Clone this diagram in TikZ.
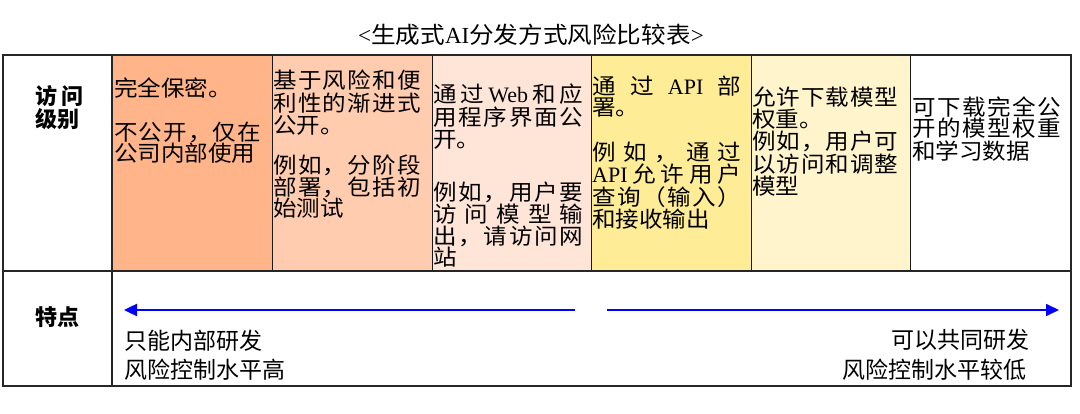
\documentclass[tikz,border=0pt]{standalone}
\usepackage{fontspec}
\setmainfont{Liberation Serif}
\newfontfamily\cjk[FakeStretch=1.07]{Noto Sans CJK SC}
\newfontfamily\cjkh{Noto Sans CJK SC}
\usetikzlibrary{arrows.meta}
\ExplSyntaxOn
\bool_new:N \l__spr_first_bool
\NewDocumentCommand \spr { O{148pt} m }
  {
    \hbox_to_wd:nn {#1}
      {
        \bool_set_true:N \l__spr_first_bool
        \tl_map_inline:nn {#2}
          {
            \bool_if:NTF \l__spr_first_bool
              { \bool_set_false:N \l__spr_first_bool }
              { \hfill }
            {##1}
          }
      }
  }
\ExplSyntaxOff
\definecolor{colA}{HTML}{FFB48A}
\definecolor{colB}{HTML}{FFCCB0}
\definecolor{colC}{HTML}{FFE5D8}
\definecolor{colD}{HTML}{FFEC96}
\definecolor{colE}{HTML}{FFF4CC}
\tikzset{
  cellt/.style={anchor=base west, inner sep=0pt, font=\cjk\fontsize{22}{22}\selectfont},
  head/.style={anchor=base west, inner sep=0pt, font=\cjkh\bfseries\fontsize{22}{24}\selectfont},
  feat/.style={inner sep=0pt, font=\cjkh\fontsize{23}{26}\selectfont},
  titlet/.style={anchor=base, inner sep=0pt, font=\cjk\fontsize{23}{24}\selectfont},
  outerline/.style={draw=black!85, line width=1.3pt},
  innerline/.style={draw=black!90, line width=0.9pt},
  flow/.style={draw=blue, -{Triangle[length=13pt,width=12pt]}}
}
\begin{document}
\begin{tikzpicture}[x=1pt,y=1pt]
\useasboundingbox (0,0) rectangle (1080,-414);
% cell fills
\fill[colA] (112,-55) rectangle (272,-271);
\fill[colB] (272,-55) rectangle (432,-271);
\fill[colC] (432,-55) rectangle (591,-271);
\fill[colD] (591,-55) rectangle (751,-271);
\fill[colE] (751,-55) rectangle (910,-271);
% grid
\foreach \xx in {272,432,591,751,910} \draw[innerline] (\xx,-55) -- (\xx,-271);
\draw[outerline] (3,-271) -- (1071,-271);
\draw[outerline] (112,-55) -- (112,-386);
\draw[outerline] (3,-55) rectangle (1071,-386);
% title
\node[titlet] (title) at (531,-44) {{\rmfamily <}生成式{\rmfamily AI}分发方式风险比较表{\rmfamily >}};
% row headers
\node[head] (h1) at (35,-105) {\hbox to 48pt{访\hfill 问}};
\node[head] (h2) at (35,-128) {级别};
\node[head] (h3) at (35,-326) {特点};
% column 1
\node[cellt] (c1a) at (114,-97) {完全保密。};
\node[cellt] (c1b) at (114,-141) {\spr[147pt]{不公开，仅在}};
\node[cellt] (c1c) at (114,-162) {公司内部使用};
% column 2
\node[cellt] (c2a) at (273,-89) {\spr{基于风险和便}};
\node[cellt] (c2b) at (273,-112) {\spr{利性的渐进式}};
\node[cellt] (c2c) at (273,-134) {公开。};
\node[cellt] (c2d) at (273,-174) {\spr{例如，分阶段}};
\node[cellt] (c2e) at (273,-196) {\spr{部署，包括初}};
\node[cellt] (c2f) at (273,-217) {始测试};
% column 3
\node[cellt] (c3a) at (433,-103) {\spr[150pt]{通过{\rmfamily Web}和应}};
\node[cellt] (c3b) at (433,-125.5) {\spr[150pt]{用程序界面公}};
\node[cellt] (c3c) at (433,-148) {开。};
\node[cellt] (c3d) at (433,-200.5) {\spr[150pt]{例如，用户要}};
\node[cellt] (c3e) at (433,-223) {\spr[150pt]{访问模型输}};
\node[cellt] (c3f) at (433,-245) {\spr[150pt]{出，请访问网}};
\node[cellt] (c3g) at (433,-266) {站};
% column 4
\node[cellt] (c4a) at (592,-95) {\spr[149pt]{通过{\rmfamily API}部}};
\node[cellt] (c4b) at (592,-116) {署。};
\node[cellt] (c4c) at (592,-161) {\spr[149pt]{例如，通过}};
\node[cellt] (c4d) at (592,-183) {\spr[149pt]{{\rmfamily API}允许用户}};
\node[cellt] (c4e) at (592,-206) {\spr[149pt]{查询（输入）}};
\node[cellt] (c4f) at (592,-228) {和接收输出};
% column 5
\node[cellt] (c5a) at (752,-106) {\spr[146pt]{允许下载模型}};
\node[cellt] (c5b) at (752,-128) {权重。};
\node[cellt] (c5c) at (752,-150) {\spr[146pt]{例如，用户可}};
\node[cellt] (c5d) at (752,-173) {\spr[146pt]{以访问和调整}};
\node[cellt] (c5e) at (752,-195) {模型};
% column 6
\node[cellt] (c6a) at (912,-116) {\spr[149pt]{可下载完全公}};
\node[cellt] (c6b) at (912,-137) {\spr[149pt]{开的模型权重}};
\node[cellt] (c6c) at (912,-160) {和学习数据};
% arrows
\coordinate (la) at (575,-310);
\coordinate (lb) at (124,-310);
\coordinate (ra) at (607,-310);
\coordinate (rb) at (1059,-310);
\draw[flow, line width=2.4pt] (la) -- (lb);
\draw[flow, line width=1.7pt] (ra) -- (rb);
% feature texts
\node[feat, anchor=base west] (f1) at (124,-349.5) {只能内部研发};
\node[feat, anchor=base west] (f2) at (124,-378.5) {风险控制水平高};
\node[feat, anchor=base east] (f3) at (1030,-348.5) {可以共同研发};
\node[feat, anchor=base east] (f4) at (1027,-378.5) {风险控制水平较低};
\end{tikzpicture}
\end{document}
